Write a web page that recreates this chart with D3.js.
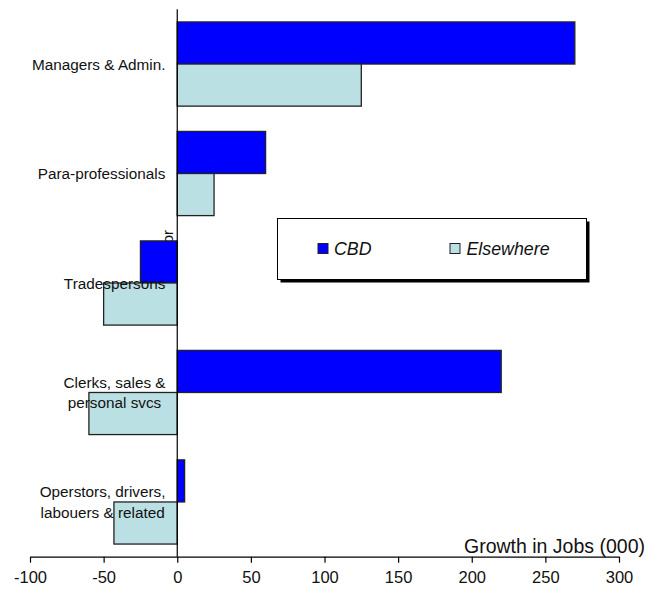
<!DOCTYPE html>
<html>
<head>
<meta charset="utf-8">
<script src="https://cdn.jsdelivr.net/npm/d3@7"></script>
<style>
  body { margin: 0; background: #fff; }
  svg { display: block; font-family: "Liberation Sans", Arial, sans-serif; }
</style>
</head>
<body>
<svg id="chart" width="646" height="594"></svg>
<script>
const categories = ["Managers & Admin.", "Para-professionals", "Tradespersons", "Clerks, sales & personal svcs", "Operstors, drivers, labouers & related"];
const categoryLines = [["Managers & Admin."], ["Para-professionals"], ["Tradespersons"], ["Clerks, sales &", "personal svcs"], ["Operstors, drivers,", "labouers & related"]];
const seriesNames = ["CBD", "Elsewhere"];
const cbdValues = [270, 60, -25, 220, 5];
const elsewhereValues = [125, 25, -50, -60, -43];
const xTicks = [-100, -50, 0, 50, 100, 150, 200, 250, 300];
const colors = ["#0000FF", "#BBE0E3"];

const svg = d3.select("#chart");
const x = d3.scaleLinear().domain([-100, 300]).range([30, 619]);
const y = d3.scaleBand().domain(categories).range([9.3, 556.7]).paddingInner(0.231).paddingOuter(0.1155);
const ySub = d3.scaleBand().domain(seriesNames).range([0, y.bandwidth()]);

// hidden rotated axis title (mostly covered by bars)
svg.append("text")
  .attr("transform", `translate(173,230) rotate(-90)`)
  .attr("text-anchor", "end")
  .attr("font-size", 15)
  .attr("fill", "#111")
  .text("Sector");

const data = categories.map((c, i) => ({cat: c, values: [cbdValues[i], elsewhereValues[i]]}));

const groups = svg.append("g").selectAll("g").data(data).join("g")
  .attr("transform", d => `translate(0,${y(d.cat)})`);
groups.selectAll("rect").data(d => d.values.map((v, j) => ({v, s: seriesNames[j], j}))).join("rect")
  .attr("x", d => x(Math.min(0, d.v)))
  .attr("width", d => Math.abs(x(d.v) - x(0)))
  .attr("y", d => ySub(d.s))
  .attr("height", ySub.bandwidth())
  .attr("fill", d => colors[d.j])
  .attr("stroke", "#222")
  .attr("stroke-width", 1.3);

// zero line
svg.append("line")
  .attr("x1", x(0)).attr("x2", x(0))
  .attr("y1", 9.3).attr("y2", 556.7)
  .attr("stroke", "#000").attr("stroke-width", 1.2);

// category labels
const labelRight = 165.5;
categoryLines.forEach((lines, i) => {
  const cy = y(categories[i]) + y.bandwidth() / 2;
  const g = svg.append("g");
  const t = g.append("text").attr("font-size", 15.3).attr("fill", "#111").attr("text-anchor", "middle");
  const lh = 20.7;
  lines.forEach((ln, k) => {
    t.append("tspan").attr("x", 0).attr("y", cy + (k - (lines.length - 1) / 2) * lh).attr("dy", "0.37em").text(ln);
  });
  const w = t.node().getBBox().width;
  t.attr("transform", `translate(${labelRight - w / 2},0)`);
});

// x axis
const axis = svg.append("g").attr("transform", "translate(0,556.7)")
  .call(d3.axisBottom(x).tickValues(xTicks).tickSize(6).tickSizeOuter(0).tickPadding(9).tickFormat(d => String(d)));
axis.select(".domain").attr("stroke", "#000").attr("stroke-width", 1.2);
axis.selectAll(".tick line").attr("stroke", "#000").attr("stroke-width", 1.2);
axis.selectAll(".tick text").attr("font-size", 16.5).attr("fill", "#111").attr("font-family", "Liberation Sans, Arial, sans-serif");

svg.append("text")
  .attr("x", 645).attr("y", 553)
  .attr("text-anchor", "end")
  .attr("font-size", 19.5)
  .attr("fill", "#111")
  .text("Growth in Jobs (000)");

// legend
const lg = svg.append("g");
lg.append("rect").attr("x", 280.5).attr("y", 221.5).attr("width", 309).attr("height", 61).attr("fill", "#000");
lg.append("rect").attr("x", 277.5).attr("y", 218.5).attr("width", 309).attr("height", 61).attr("fill", "#fff").attr("stroke", "#000").attr("stroke-width", 1);
const legendItems = [{x: 318, tx: 334}, {x: 450, tx: 466.5}];
seriesNames.forEach((s, i) => {
  lg.append("rect").attr("x", legendItems[i].x).attr("y", 243.5).attr("width", 10).attr("height", 10)
    .attr("fill", colors[i]).attr("stroke", "#222").attr("stroke-width", 1);
  lg.append("text").attr("x", legendItems[i].tx).attr("y", 255).attr("font-size", 17.8)
    .attr("font-style", "italic").attr("fill", "#111").text(s);
});
</script>
</body>
</html>
